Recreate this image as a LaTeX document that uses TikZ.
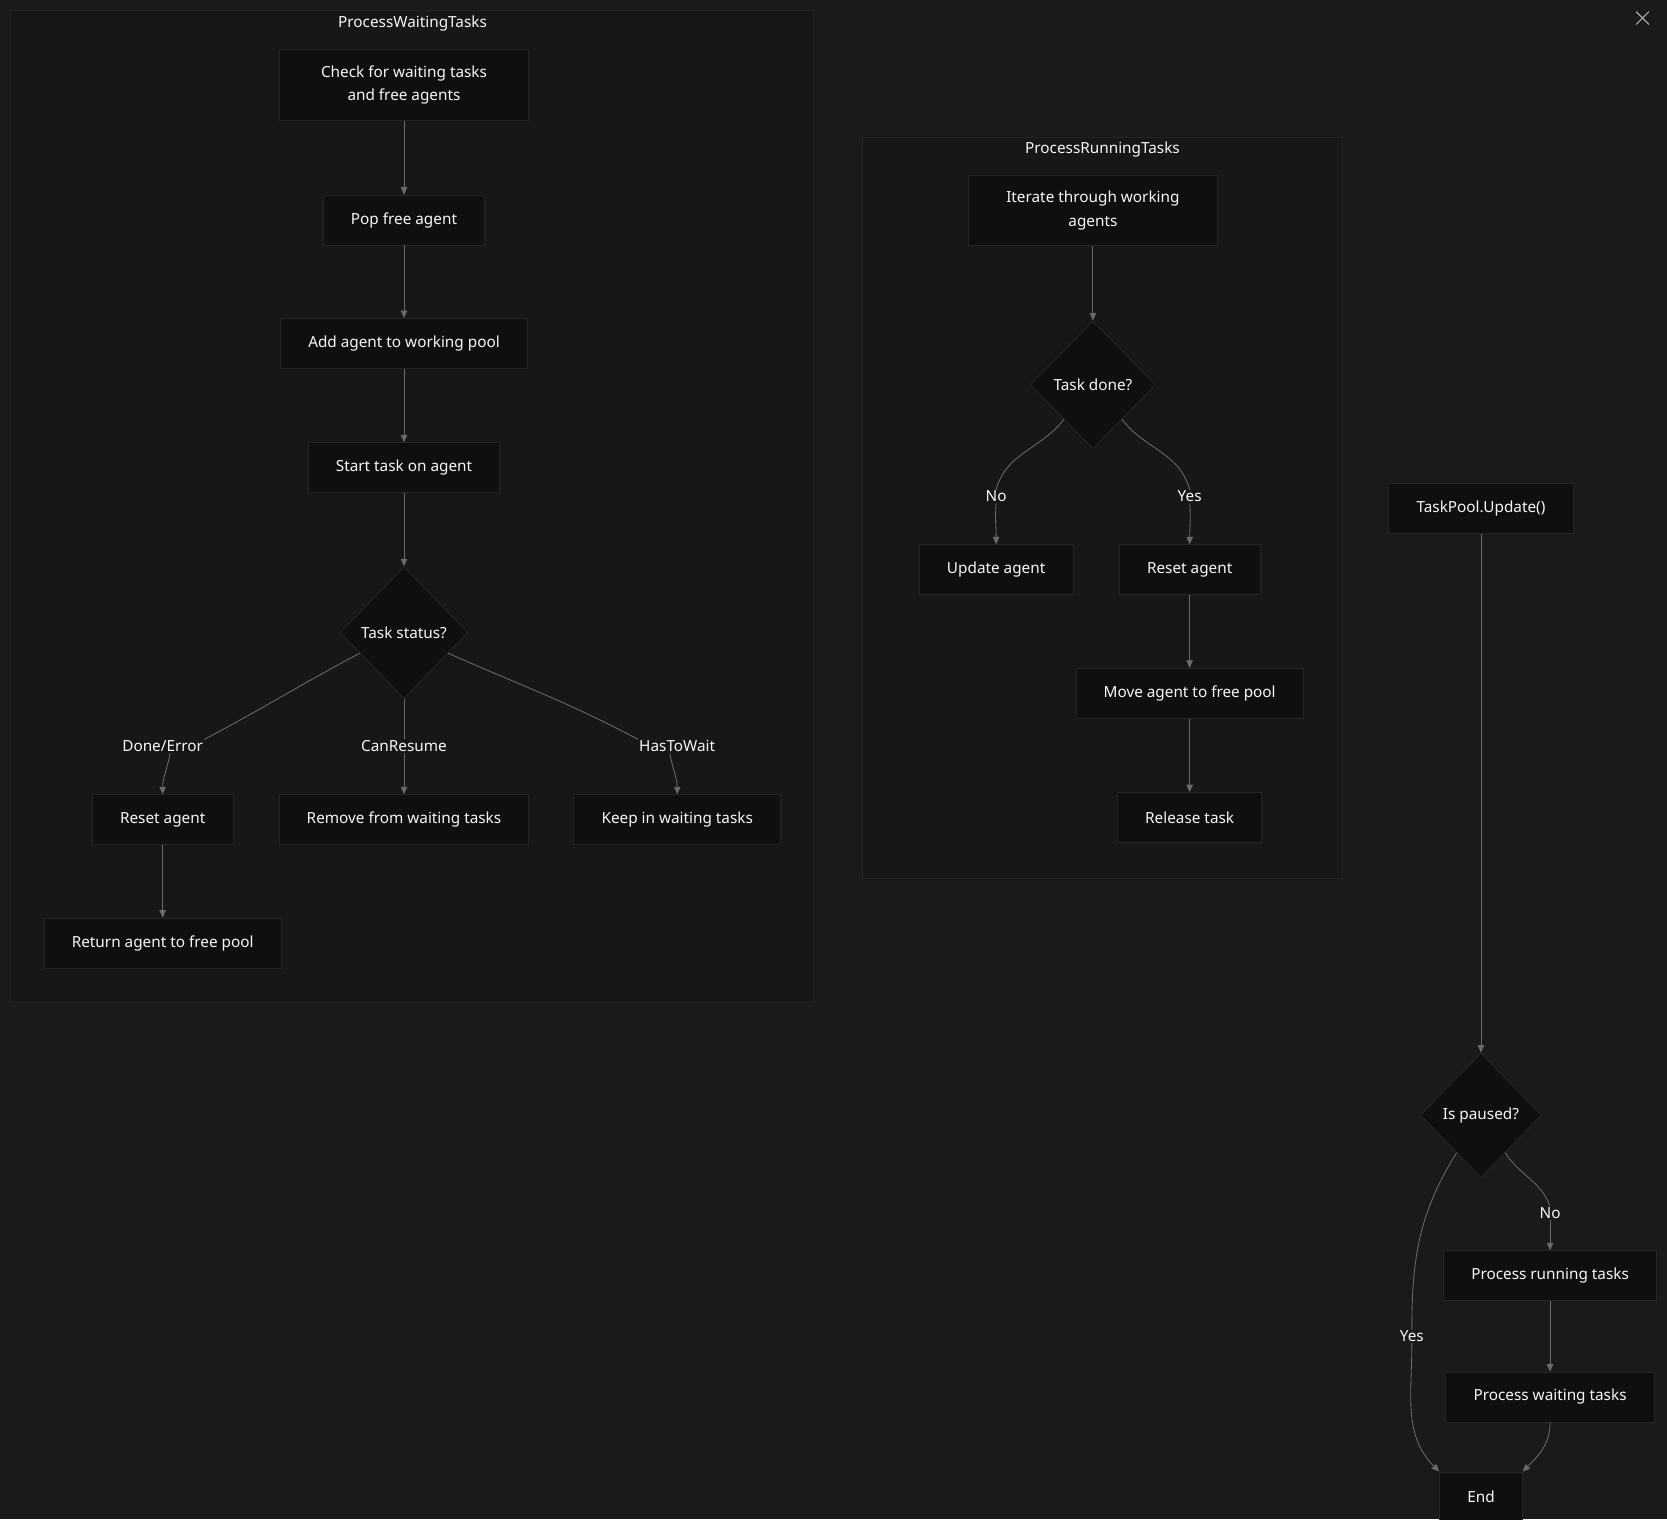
\documentclass[tikz,border=0pt]{standalone}
\usepackage{fontspec}
\setmainfont{Noto Sans}
\usetikzlibrary{shapes.geometric,arrows.meta}
\definecolor{bg}{HTML}{1A1A1A}
\definecolor{clfill}{HTML}{171717}
\definecolor{clline}{HTML}{222222}
\definecolor{nfill}{HTML}{0F0F0F}
\definecolor{nline}{HTML}{252525}
\definecolor{eline}{HTML}{6A6A6A}
\definecolor{txt}{HTML}{F7F7F7}
\definecolor{xgray}{HTML}{A8A8A8}

\begin{document}
\begin{tikzpicture}[x=1pt, y=-1pt, font=\fontsize{14.4}{22}\selectfont,
  every node/.style={text=txt},
  box/.style={rectangle, draw=nline, fill=nfill, line width=0.8pt, inner xsep=26pt, inner ysep=15pt, minimum height=47pt, align=center},
  decision/.style={diamond, draw=nline, fill=nfill, line width=0.8pt, inner sep=0pt, minimum width=118pt, minimum height=120pt},
  lbl/.style={inner sep=1pt},
  cluster/.style={draw=clline, fill=clfill, line width=0.8pt},
  every edge/.style={draw=eline, line width=0.8pt},
  flow/.style={-{Triangle[length=7pt,width=6pt]}}]
			\useasboundingbox[fill=bg] (0,0) rectangle (1568,1429);
			
			\path[cluster] (10,10) rectangle (765,943);
			\node (title1) at (388,22) {ProcessWaitingTasks};
			\path[cluster] (811,129) rectangle (1263,826);
			\node (title2) at (1037,141) {ProcessRunningTasks};
			
			\node[box, minimum width=234pt] (check) at (380,80) {Check for waiting tasks\\and free agents};
			\node[box] (pop) at (380,207) {Pop free agent};
			\node[box] (add) at (380,323) {Add agent to working pool};
			\node[box] (start) at (380,440) {Start task on agent};
			\node[decision, minimum width=120pt, minimum height=124pt] (status) at (380,595) {Task status?};
			\node[lbl] (lDone) at (153,702) {Done/Error};
			\node[lbl] (lResume) at (380,702) {CanResume};
			\node[lbl] (lWait) at (637,702) {HasToWait};
			\node[box] (reset1) at (153,771) {Reset agent};
			\node[box] (remove) at (380,771) {Remove from waiting tasks};
			\node[box] (keep) at (637,771) {Keep in waiting tasks};
			\node[box] (return) at (153,887) {Return agent to free pool};
			
			\path (check) edge[flow] (pop);
			\path (pop) edge[flow] (add);
			\path (add) edge[flow] (start);
			\path (start) edge[flow] (status);
			\path (status.-155) edge[out=-152, in=28] (lDone.north east);
			\path ([xshift=7pt]lDone.south) edge[flow, out=-100, in=90] (reset1.north);
			\path (status.south) edge (lResume.north);
			\path (lResume.south) edge[flow] (remove.north);
			\path (status.-25) edge[out=-24, in=152] (lWait.north west);
			\path ([xshift=-7pt]lWait.south) edge[flow, out=-80, in=90] (keep.north);
			\path (reset1) edge[flow] (return);
			
			\node[box, minimum width=234pt] (iterate) at (1028,198) {Iterate through working\\agents};
			\node[decision] (done) at (1028,362) {Task done?};
			\node[lbl] (lNo1) at (937,467) {No};
			\node[lbl] (lYes1) at (1119,467) {Yes};
			\node[box] (update) at (937,536) {Update agent};
			\node[box] (reset2) at (1119,536) {Reset agent};
			\node[box] (move) at (1119,652) {Move agent to free pool};
			\node[box] (release) at (1119,769) {Release task};
			
			\path (iterate) edge[flow] (done);
			\path (done.-130) edge[out=-128, in=75] (lNo1.north);
			\path (lNo1.south) edge[flow, out=-95, in=90] (update.north);
			\path (done.-50) edge[out=-52, in=105] (lYes1.north);
			\path (lYes1.south) edge[flow, out=-85, in=90] (reset2.north);
			\path (reset2) edge[flow] (move);
			\path (move) edge[flow] (release);
			
			\node[box] (update0) at (1393,478) {TaskPool.Update()};
			\node[decision, minimum width=114pt, minimum height=117pt] (paused) at (1393,1049) {Is paused?};
			\node[lbl] (lNo2) at (1458,1141) {No};
			\node[lbl] (lYes2) at (1328,1257) {Yes};
			\node[box] (prun) at (1458,1200) {Process running tasks};
			\node[box] (pwait) at (1458,1314) {Process waiting tasks};
			\node[box] (end) at (1393,1408) {End};
			
			\path (update0) edge[flow] (paused);
			\path (paused.-57) edge[out=-58, in=110] (lNo2.north);
			\path (lNo2.south) edge[flow] (prun.north);
			\path (prun) edge[flow] (pwait);
			\path (paused.-123) edge[out=-122, in=90] (lYes2.north);
			\path (lYes2.south) edge[flow, out=-90, in=135] (end.north west);
			\path (pwait.south) edge[flow, out=-90, in=45] (end.north east);
			
			\draw[xgray, line width=1pt] (1539,11) -- (1551,23) (1551,11) -- (1539,23);
\end{tikzpicture}
\end{document}
